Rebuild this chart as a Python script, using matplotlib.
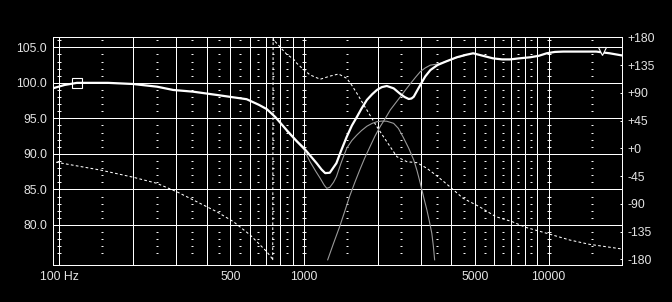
# frequency response plot (SPL + driver curves + phase), dark measurement-software look
import numpy as np
import matplotlib
matplotlib.use('Agg')
import matplotlib.pyplot as plt

# %% data
# summed SPL response (dB)
spl_freq = [94.5, 105, 118, 140, 158, 200, 251, 292, 352, 440, 513, 583, 655, 705, 763,
            852, 934, 1000, 1070, 1126, 1180, 1221, 1275, 1357, 1420, 1495, 1570, 1645,
            1720, 1808, 1900, 1986, 2080, 2181, 2325, 2478, 2580, 2680, 2750, 2810, 2900,
            2988, 3130, 3286, 3510, 3800, 4213, 4600, 4915, 5400, 5920, 6450, 6950, 7600,
            8400, 9100, 9820, 10600, 11470, 13000, 15650, 17750, 20000]
spl_db = [99.25, 99.7, 100.0, 100.0, 100.0, 99.84, 99.46, 99.0, 98.76, 98.3, 97.97, 97.7, 96.9,
          96.3, 95.2, 93.3, 91.8, 90.8, 89.6, 88.7, 87.8, 87.3, 87.35, 88.7, 90.5, 92.4, 94.0,
          95.2, 96.4, 97.6, 98.4, 99.0, 99.4, 99.56, 99.23, 98.43, 98.0, 97.73, 97.8, 98.05,
          98.9, 99.7, 100.9, 101.8, 102.5, 103.0, 103.6, 103.95, 104.16, 103.8, 103.45, 103.3,
          103.3, 103.45, 103.6, 103.8, 104.16, 104.35, 104.4, 104.4, 104.4, 104.16, 103.85]

# woofer (low pass) response
woof_freq = [850, 934, 1000, 1059, 1120, 1165, 1210, 1239, 1275, 1320, 1357, 1420, 1495, 1570,
             1645, 1720, 1808, 1900, 1986, 2080, 2181, 2325, 2430, 2540, 2680, 2810, 2900, 2988,
             3080, 3180, 3260, 3330, 3380, 3420]
woof_db = [93.2, 91.7, 90.6, 88.9, 87.5, 86.57, 85.6, 85.16, 85.3, 86.0, 86.8, 88.8, 90.8, 91.9,
           92.66, 93.3, 93.9, 94.3, 94.53, 94.62, 94.6, 94.3, 93.6, 92.4, 90.8, 89.14, 87.6, 85.87,
           84.0, 82.1, 80.4, 78.83, 77.0, 75.1]

# tweeter (high pass) response
tweet_freq = [1250, 1320, 1400, 1470, 1535, 1610, 1690, 1770, 1860, 1950, 2047, 2150, 2252, 2360,
              2478, 2600, 2730, 2860, 2988, 3130, 3286, 3450, 3610, 3800, 4213, 4600]
tweet_db = [75.1, 77.4, 79.8, 82.0, 84.0, 85.9, 87.74, 89.4, 91.0, 92.5, 93.83, 95.0, 96.18, 97.1,
            98.05, 99.0, 99.94, 100.8, 101.57, 102.1, 102.5, 102.6, 102.75, 103.0, 103.55, 103.9]

# phase of the sum (deg), wraps at -180/+180
phase_freq = [97, 147, 201, 250, 302, 353, 440, 515, 603, 705, 740, 745, 748, 763, 852, 905, 934,
              1000, 1059, 1165, 1275, 1385, 1495, 1570, 1645, 1808, 1986, 2181, 2397, 2635, 2895,
              3180, 3500, 3946, 4470, 5213, 6085, 7100, 8040, 9820, 12200, 14700, 20000]
phase_deg = [-22.5, -35.2, -47, -56.7, -70.4, -83.8, -102.8, -119, -140.6, -167.7, -178.4, -182,
             178, 172.9, 152, 145, 138, 127, 119, 112, 117, 120.5, 113.5, 102, 89.2, 62, 35, 10.7,
             -13.6, -21.7, -23.3, -32.4, -45, -62.3, -81, -94.7, -110.9, -119, -128, -137.8,
             -148.7, -155.7, -163.3]

# cursor markers
square_freq, square_db = [118.5], [100.0]
tri_freq, tri_db = [16470], [104.5]

# axes / grid
x_ticks = [100, 500, 1000, 5000, 10000]
x_labels = ['100 Hz', '500', '1000', '5000', '10000']
grid_freqs = [100, 200, 300, 400, 500, 600, 700, 800, 900,
              1000, 2000, 3000, 4000, 5000, 6000, 7000, 8000, 9000, 10000]
decade_freqs = [100, 1000, 10000]
mid_freqs = [150, 250, 350, 450, 550, 650, 750, 850,
             1500, 2500, 3500, 4500, 5500, 6500, 7500, 8500, 15000]
db_ticks = [80, 85, 90, 95, 100, 105]
phase_ticks = [-180, -135, -90, -45, 0, 45, 90, 135, 180]
phase_labels = ['-180', '-135', '-90', '-45', '+0', '+45', '+90', '+135', '+180']

# %% figure
W, H = 672, 302
fg = 'white'
txt = '#e4e4e4'
plt.rcParams['font.family'] = ['Liberation Sans', 'DejaVu Sans']
plt.rcParams['font.size'] = 8.8

fig = plt.figure(figsize=(W / 100, H / 100), dpi=100, facecolor='black')
ax = fig.add_axes([53.3 / W, (H - 265) / H, (622.3 - 53.3) / W, (265 - 37.3) / H])
ax2 = ax.twinx()
ax.set_zorder(ax2.get_zorder() + 1)
ax.patch.set_visible(False)
ax2.set_facecolor('black')

ax.set_xscale('log')
ax.set_xlim(94.5, 20000)
ax.set_ylim(74.37, 106.41)
ax2.set_ylim(-189.2, 180)

# grid
for f in grid_freqs:
    ax.axvline(f, color=fg, lw=0.7, antialiased=False, zorder=1)
for d in db_ticks:
    ax.axhline(d, color=fg, lw=0.7, antialiased=False, zorder=1)
minor_db = [d for d in range(75, 107) if d % 5 != 0]
for f in mid_freqs:
    ax.plot([f] * len(minor_db), minor_db, ls='none', marker='_', ms=1.6, mew=0.7,
            color=fg, zorder=1)
for f in decade_freqs:
    ax.plot([f] * len(minor_db), minor_db, ls='none', marker='_', ms=2.6, mew=0.7,
            color=fg, zorder=1)

# curves
ax2.plot(phase_freq, phase_deg, color=fg, lw=0.75, ls=(0, (2.6, 2.2)), zorder=2)
ax.plot(woof_freq, woof_db, color='#9a9a9a', lw=0.8, zorder=3)
ax.plot(tweet_freq, tweet_db, color='#9a9a9a', lw=0.8, zorder=3)
ax.plot(spl_freq, spl_db, color=fg, lw=1.6, zorder=4)
ax.plot(square_freq, square_db, ls='none', marker='s', ms=7, mfc='none', mec=fg, mew=0.8, zorder=5)
ax.plot(tri_freq, tri_db, ls='none', marker='v', ms=6, mfc='black', mec=fg, mew=0.8, zorder=5)

# ticks and labels
ax.set_xticks(x_ticks)
ax.set_xticklabels(x_labels)
ax.xaxis.set_minor_locator(matplotlib.ticker.NullLocator())
ax.tick_params(axis='x', length=0, pad=4, colors=txt)
ax.set_yticks(db_ticks)
ax.set_yticklabels([f'{d:.1f}' for d in db_ticks])
ax.tick_params(axis='y', length=0, pad=4.5, colors=txt)

ax2.set_yticks(phase_ticks)
ax2.set_yticklabels(phase_labels)
ax2.tick_params(axis='y', direction='in', length=1.6, width=0.7, color=fg, pad=3.6, labelcolor=txt)

for a in (ax, ax2):
    for s in a.spines.values():
        s.set_color(fg)
        s.set_linewidth(0.7)

fig.savefig('out.png', dpi=100, facecolor='black')
